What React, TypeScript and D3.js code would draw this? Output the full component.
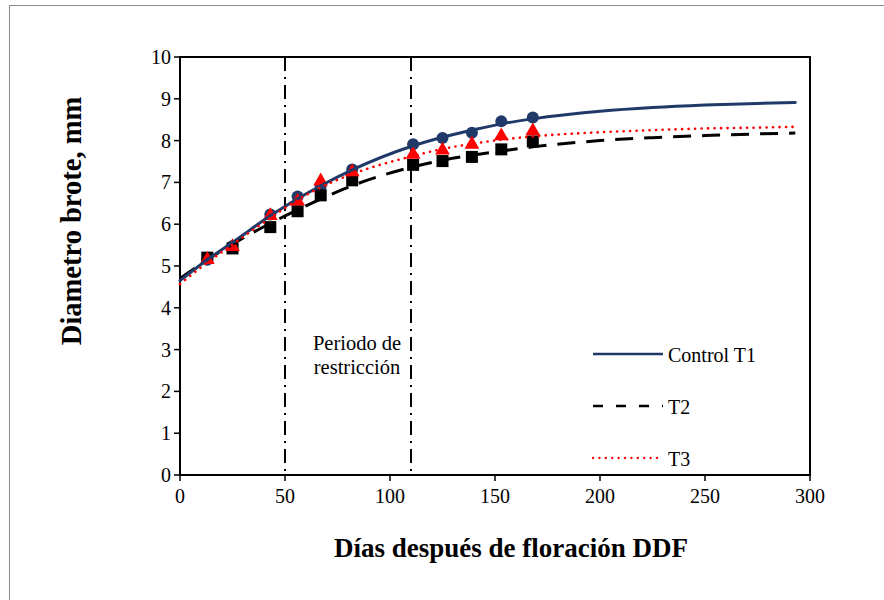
import React from "react";
import * as d3 from "d3";

// Sampling days (markers)
const days = [13, 25, 43, 56, 67, 82, 111, 125, 139, 153, 168];
const controlObs = [5.15, 5.48, 6.23, 6.66, 6.9, 7.31, 7.91, 8.06, 8.19, 8.46, 8.55];
const t2Obs = [5.2, 5.42, 5.93, 6.31, 6.69, 7.05, 7.42, 7.51, 7.61, 7.79, 7.98];
const t3Obs = [5.15, 5.46, 6.2, 6.55, 7.03, 7.25, 7.67, 7.77, 7.91, 8.11, 8.23];

// Fitted trend curves, sampled along the day axis
const fitDays = [0, 13, 26, 43, 55, 67, 82, 110, 125, 140, 153, 168, 200, 225, 250, 275, 293];
const controlFit = [4.65, 5.15, 5.6, 6.2, 6.58, 6.92, 7.3, 7.86, 8.08, 8.26, 8.4, 8.52, 8.7, 8.79, 8.85, 8.89, 8.91];
const t2Fit = [4.7, 5.15, 5.55, 6.02, 6.32, 6.6, 6.92, 7.36, 7.53, 7.66, 7.75, 7.85, 8.0, 8.07, 8.12, 8.16, 8.18];
const t3Fit = [4.57, 5.08, 5.55, 6.15, 6.55, 6.88, 7.2, 7.62, 7.8, 7.93, 8.02, 8.1, 8.2, 8.25, 8.29, 8.31, 8.33];

// Restriction period bounds
const restriction = [50, 110];

const xTicks = [0, 50, 100, 150, 200, 250, 300];
const yTicks = [0, 1, 2, 3, 4, 5, 6, 7, 8, 9, 10];

const legendLabels = ["Control T1", "T2", "T3"];

const NAVY = "#1F3A68";
const RED = "#FF0000";
const FONT = "'Liberation Serif', 'Times New Roman', serif";

export default function App() {
  const left = 180, right = 810, top = 57, bottom = 475;
  const x = d3.scaleLinear().domain([0, 300]).range([left, right]);
  const y = d3.scaleLinear().domain([0, 10]).range([bottom, top]);

  const line = d3
    .line<[number, number]>()
    .x((d) => x(d[0]))
    .y((d) => y(d[1]))
    .curve(d3.curveMonotoneX);

  const zip = (a: number[], b: number[]) => a.map((v, i) => [v, b[i]] as [number, number]);

  const tri = d3.symbol().type(d3.symbolTriangle).size(95)() as string;

  return (
    <svg
      width={884}
      height={600}
      style={{ position: "absolute", left: 0, top: 0, background: "#fff" }}
      fontFamily={FONT}
    >
      <rect x={0} y={0} width={884} height={600} fill="#fff" />
      <rect x={9.5} y={5.5} width={900} height={700} fill="none" stroke="#8c8c8c" strokeWidth={1} />

      {/* plot frame */}
      <rect x={left} y={top} width={right - left} height={bottom - top} fill="none" stroke="#000" strokeWidth={2} />

      {/* y ticks */}
      {yTicks.map((t) => (
        <g key={"y" + t}>
          <line x1={left - 6} x2={left} y1={y(t)} y2={y(t)} stroke="#000" strokeWidth={1.5} />
          <text x={left - 9} y={y(t)} dy="0.35em" textAnchor="end" fontSize={20}>
            {t}
          </text>
        </g>
      ))}
      {/* x ticks */}
      {xTicks.map((t) => (
        <g key={"x" + t}>
          <line x1={x(t)} x2={x(t)} y1={bottom} y2={bottom + 6} stroke="#000" strokeWidth={1.5} />
          <text x={x(t)} y={bottom + 28} textAnchor="middle" fontSize={20}>
            {t}
          </text>
        </g>
      ))}

      {/* restriction period */}
      {restriction.map((d) => (
        <line
          key={"r" + d}
          x1={x(d)}
          x2={x(d)}
          y1={top}
          y2={bottom}
          stroke="#000"
          strokeWidth={2}
          strokeDasharray="14,6,2,6"
        />
      ))}
      <text x={357} y={350} textAnchor="middle" fontSize={20.5}>
        Periodo de
      </text>
      <text x={357} y={374} textAnchor="middle" fontSize={20.5}>
        restricción
      </text>

      {/* markers */}
      {days.map((d, i) => (
        <circle key={"c" + i} cx={x(d)} cy={y(controlObs[i])} r={6} fill={NAVY} />
      ))}
      {days.map((d, i) => (
        <rect key={"s" + i} x={x(d) - 6} y={y(t2Obs[i]) - 6} width={12} height={12} fill="#000" />
      ))}
      {days.map((d, i) => (
        <path key={"t" + i} d={tri} transform={`translate(${x(d)},${y(t3Obs[i])})`} fill={RED} />
      ))}

      {/* trend curves */}
      <path d={line(zip(fitDays, t2Fit)) || ""} fill="none" stroke="#000" strokeWidth={3} strokeDasharray="18,11" />
      <path d={line(zip(fitDays, controlFit)) || ""} fill="none" stroke={NAVY} strokeWidth={3} strokeLinecap="round" />
      <path
        d={line(zip(fitDays, t3Fit)) || ""}
        fill="none"
        stroke={RED}
        strokeWidth={2.6}
        strokeLinecap="round"
        strokeDasharray="0.1,6.4"
      />

      {/* legend */}
      <line x1={593} x2={663} y1={354} y2={354} stroke={NAVY} strokeWidth={2.5} />
      <line x1={593} x2={663} y1={406} y2={406} stroke="#000" strokeWidth={2.5} strokeDasharray="10,13" />
      <line x1={593} x2={663} y1={458} y2={458} stroke={RED} strokeWidth={2.3} strokeLinecap="round" strokeDasharray="0.1,6.3" />
      {legendLabels.map((l, i) => (
        <text key={l} x={668} y={355 + i * 52} dy="0.35em" fontSize={20}>
          {l}
        </text>
      ))}

      {/* axis titles */}
      <text x={511} y={557} textAnchor="middle" fontSize={27} fontWeight="bold">
        Días después de floración DDF
      </text>
      <text
        transform={`translate(81,${221}) rotate(-90)`}
        textAnchor="middle"
        fontSize={28.5}
        fontWeight="bold"
      >
        Diametro brote, mm
      </text>
    </svg>
  );
}
